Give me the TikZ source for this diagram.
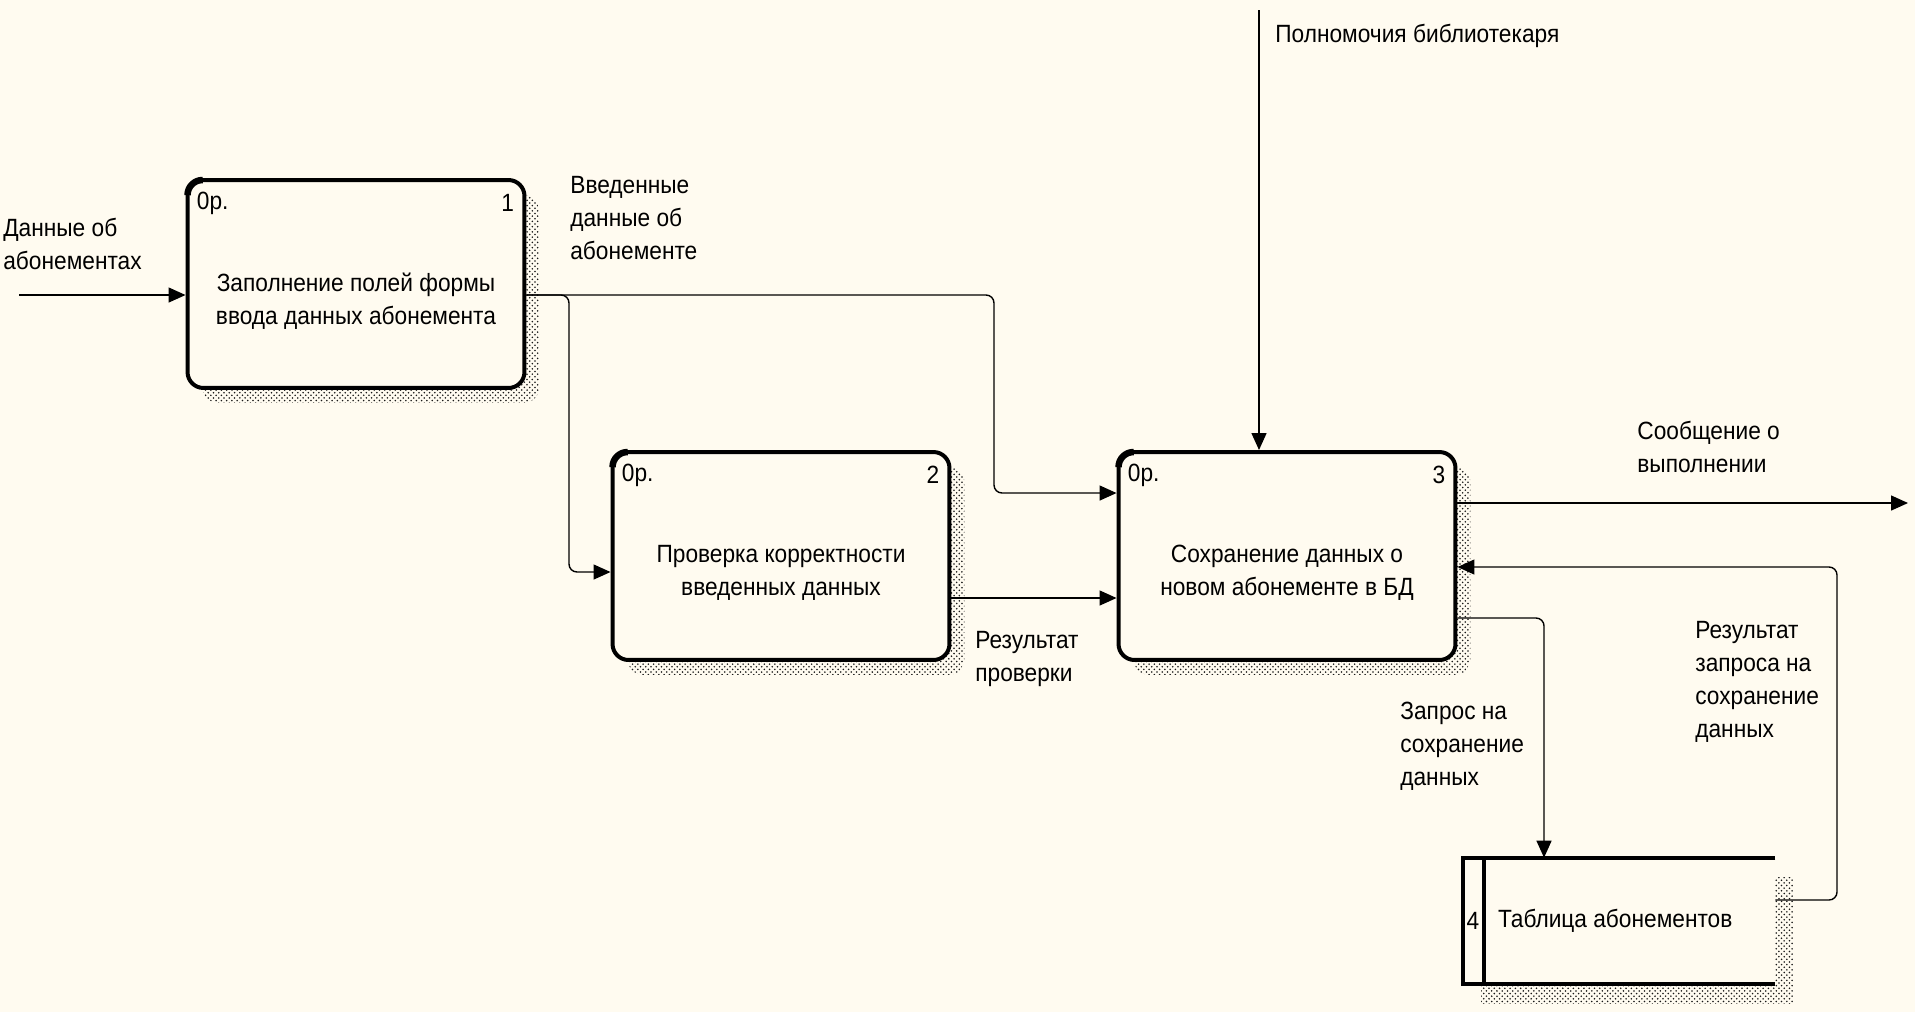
\documentclass[tikz,border=0pt]{standalone}
\usepackage{fontspec}
\setmainfont[FakeStretch=0.91]{Liberation Sans}
\usetikzlibrary{arrows.meta,shadows,patterns}
\definecolor{paper}{RGB}{255,251,240}

\begin{document}
\begin{tikzpicture}[x=0.02cm, y=-0.02cm,
    font=\fontsize{14.2}{18.8}\selectfont,
    procbox/.style={
        rectangle,
        rounded corners=0.32cm,
        line width=0.08cm,
        draw,
        fill=paper,
        minimum width=6.74cm,
        minimum height=4.16cm,
        general shadow={shadow xshift=0.3cm, shadow yshift=-0.3cm,
            pattern=crosshatch dots, pattern color=black!90}
    },
    storebox/.style={
        rectangle,
        fill=paper,
        minimum width=6.24cm,
        minimum height=2.52cm,
        general shadow={shadow xshift=0.36cm, shadow yshift=-0.38cm,
            pattern=crosshatch dots, pattern color=black!90}
    },
    cornermark/.style={line width=0.13cm, rounded corners=0.3cm},
    oplab/.style={anchor=west, inner sep=0pt, xshift=0.22cm, yshift=-0.5cm},
    numlab/.style={anchor=east, inner sep=0pt, xshift=-0.24cm, yshift=-0.5cm},
    mainlab/.style={align=center, inner sep=0pt, yshift=-0.34cm},
    storenum/.style={anchor=west, inner sep=0pt, xshift=0.07cm},
    storetext/.style={anchor=west, inner sep=0pt, xshift=0.7cm},
    flowlab/.style={anchor=west, align=left, inner sep=0pt},
    storeline/.style={line width=0.08cm},
    flow/.style={line width=0.8pt, rounded corners=0.16cm,
        -{Triangle[length=0.34cm, width=0.3cm]}}
]
    \fill[paper, use as bounding box] (0,0) rectangle (1915,1012);

    \node (zapoln) [procbox, shift={(356,284)},
        label={[oplab]north west:0р.},
        label={[numlab]north east:1},
        label={[mainlab]center:{Заполнение полей формы\\ввода данных абонемента}}]
    {};
    \node (proverka) [procbox, shift={(781,556)},
        label={[oplab]north west:0р.},
        label={[numlab]north east:2},
        label={[mainlab]center:{Проверка корректности\\введенных данных}}]
    {};
    \node (sohran) [procbox, shift={(1287,556)},
        label={[oplab]north west:0р.},
        label={[numlab]north east:3},
        label={[mainlab]center:{Сохранение данных о\\новом абонементе в БД}}]
    {};
    \foreach \b in {zapoln, proverka, sohran}
        \draw[cornermark] ([shift={(0.04cm,-0.34cm)}]\b.north west)
            -- ([shift={(0.04cm,-0.04cm)}]\b.north west)
            -- ([shift={(0.34cm,-0.04cm)}]\b.north west);

    \node (tablica) [storebox, shift={(1619,921)},
        label={[storenum]left:4},
        label={[storetext]left:Таблица абонементов}]
    {};
    \draw[storeline] (tablica.north east) -- (tablica.north west)
        -- (tablica.south west) -- (tablica.south east);
    \draw[storeline] ([xshift=0.42cm]tablica.north west) -- ([xshift=0.42cm]tablica.south west);

    \node (dannye_ob_abonementah) [flowlab, shift={(3,244)}]
    {
        Данные об\\абонементах
    };
    \node (vvedennye_dannye) [flowlab, shift={(570,218)}]
    {
        Введенные\\данные об\\абонементе
    };
    \node (rezultat_proverki) [flowlab, shift={(975,659)}]
    {
        Результат\\проверки
    };
    \node (polnomochiya) [flowlab, shift={(1275,36)}]
    {
        Полномочия библиотекаря
    };
    \node (soobshchenie) [flowlab, shift={(1637,447)}]
    {
        Сообщение о\\выполнении
    };
    \node (zapros) [flowlab, shift={(1400,746)}]
    {
        Запрос на\\сохранение\\данных
    };
    \node (rezultat_zaprosa) [flowlab, shift={(1695,682)}]
    {
        Результат\\запроса на\\сохранение\\данных
    };

    \coordinate (lvl_in) at (19,295);
    \coordinate (lvl_ctl) at (1259,10);
    \coordinate (lvl_out) at (1908,503);

    \draw[flow] (lvl_in) -- (lvl_in -| zapoln.west);
    \draw[flow] (zapoln.east |- lvl_in) -| (994,493) -- ([yshift=1.26cm]sohran.west);
    \draw[flow] (zapoln.east |- lvl_in) -| (569,572) -- ([yshift=-0.32cm]proverka.west);
    \draw[flow] ([yshift=-0.84cm]proverka.east) -- ([yshift=-0.84cm]sohran.west);
    \draw[flow] (lvl_ctl) -- (lvl_ctl |- sohran.north);
    \draw[flow] (lvl_out -| sohran.east) -- (lvl_out);
    \draw[flow] ([yshift=-1.24cm]sohran.east) -| ([xshift=-1.5cm]tablica.north);
    \draw[flow] ([yshift=0.42cm]tablica.east) -| (1837,567) -- ([yshift=-0.22cm]sohran.east);
\end{tikzpicture}
\end{document}
